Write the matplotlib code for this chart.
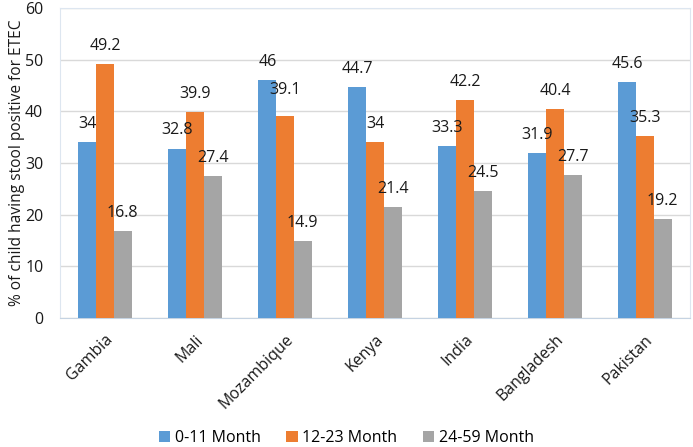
import numpy as np
import matplotlib.pyplot as plt

plt.rcParams['font.family'] = ['Open Sans', 'DejaVu Sans']

countries = ['Gambia', 'Mali', 'Mozambique', 'Kenya', 'India', 'Bangladesh', 'Pakistan']
series_names = ['0-11 Month', '12-23 Month', '24-59 Month']
m0_11 = [34, 32.8, 46, 44.7, 33.3, 31.9, 45.6]
m12_23 = [49.2, 39.9, 39.1, 34, 42.2, 40.4, 35.3]
m24_59 = [16.8, 27.4, 14.9, 21.4, 24.5, 27.7, 19.2]
yticks = [0, 10, 20, 30, 40, 50, 60]

colors = ['#5B9BD5', '#ED7D31', '#A5A5A5']

fig = plt.figure(figsize=(6.93, 4.47), dpi=100)
ax = fig.add_axes([0.0866, 0.2886, 0.909, 0.6935])

x = np.arange(len(countries))
w = 0.197
for i, (vals, name) in enumerate(zip([m0_11, m12_23, m24_59], series_names)):
    pos = x + (i - 1) * w
    ax.bar(pos, vals, width=w, color=colors[i], label=name, zorder=3)
    for px, v in zip(pos, vals):
        off = 13
        if name == '12-23 Month' and v == 39.1:
            off = 19   # this label sits a bit higher in the original
        ax.annotate('{:g}'.format(v), (px, v), xytext=(0, off), textcoords='offset points',
                    ha='center', va='center', fontsize=11.5, color='#1a1a1a', zorder=4)

ax.set_xlim(-0.5, len(countries) - 0.5)
ax.set_ylim(0, 60)
ax.set_yticks(yticks)
ax.yaxis.grid(True, color='#d9d9d9', linewidth=1, zorder=0)
ax.set_xticks(x)
ax.set_xticklabels(countries, rotation=45, ha='right', rotation_mode='anchor', fontsize=11.5)
ax.tick_params(axis='both', length=0, labelsize=11.5, colors='#1a1a1a')
ax.tick_params(axis='y', pad=12)
ax.tick_params(axis='x', pad=10)
for s in ax.spines.values():
    s.set_color('#dde6f0')
ax.spines['bottom'].set_color('#c5d3e2')

ax.set_ylabel('% of child having stool positive for ETEC', fontsize=11.2, color='#1a1a1a', labelpad=0)

fig.legend(loc='lower center', bbox_to_anchor=(0.5, -0.03), ncol=3, frameon=False,
           fontsize=11.5, handlelength=0.7, handleheight=0.7, handletextpad=0.3, columnspacing=1.6)

fig.savefig('out.png', dpi=100)
